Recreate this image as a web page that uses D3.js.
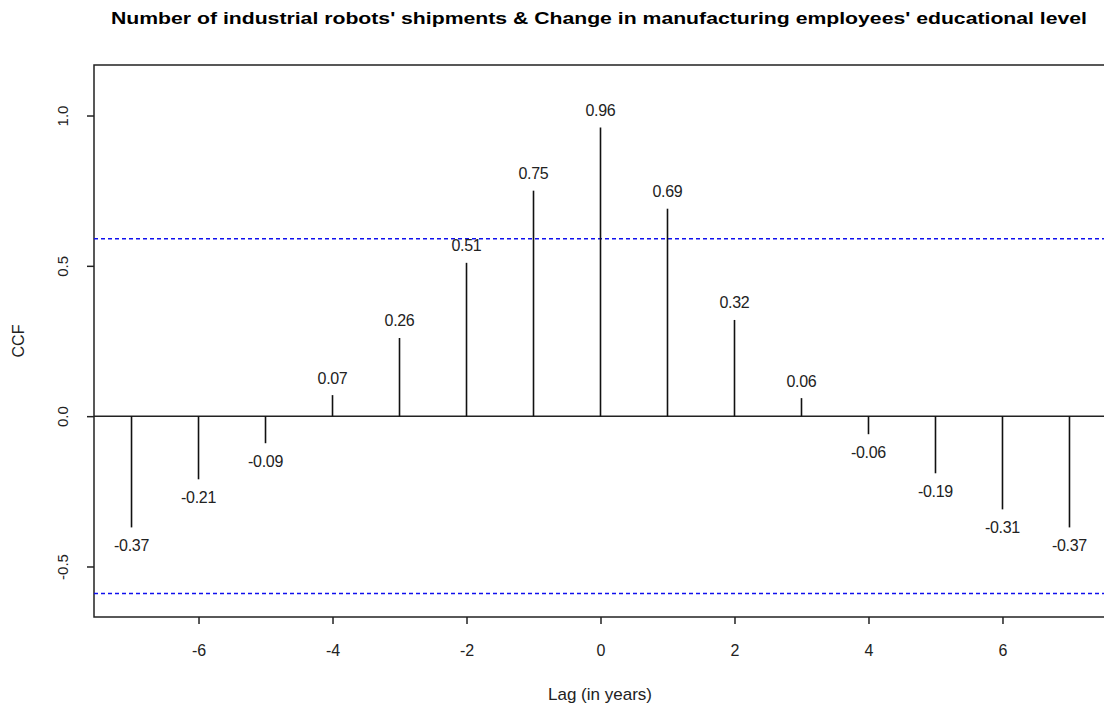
<!DOCTYPE html>
<html>
<head>
<meta charset="utf-8">
<title>CCF plot</title>
<script src="https://d3js.org/d3.v7.min.js"></script>
<style>
  body { margin: 0; background: #fff; }
  text { font-family: "Liberation Sans", Arial, sans-serif; }
</style>
</head>
<body>
<svg id="chart"></svg>
<script>
// lags and cross-correlation values
const lags = [-7, -6, -5, -4, -3, -2, -1, 0, 1, 2, 3, 4, 5, 6, 7];
const ccfValues = [-0.37, -0.21, -0.09, 0.07, 0.26, 0.51, 0.75, 0.96, 0.69, 0.32, 0.06, -0.06, -0.19, -0.31, -0.37];
const confLimit = 0.59;
const xTicks = [-6, -4, -2, 0, 2, 4, 6];
const yTicks = [-0.5, 0.0, 0.5, 1.0];

const width = 1104, height = 705;
const box = {left: 94, top: 65, right: 1107, bottom: 617};
const ink = '#222';

const svg = d3.select('#chart').attr('width', width).attr('height', height);

const x = d3.scaleLinear().domain([-7.56, 7.56]).range([box.left, box.right]);
const y = d3.scaleLinear().domain([-0.668, 1.168]).range([box.bottom, box.top]);

// title
svg.append('text')
  .attr('x', 599).attr('y', 24)
  .attr('text-anchor', 'middle')
  .attr('font-weight', 'bold').attr('font-size', 16)
  .attr('textLength', 976).attr('lengthAdjust', 'spacingAndGlyphs')
  .text("Number of industrial robots' shipments & Change in manufacturing employees' educational level");

// plot box
svg.append('rect')
  .attr('x', box.left).attr('y', box.top)
  .attr('width', box.right - box.left).attr('height', box.bottom - box.top)
  .attr('fill', 'none').attr('stroke', ink).attr('stroke-width', 1.5);

// x axis
const xAxis = svg.append('g').attr('transform', `translate(0,${box.bottom})`)
  .call(d3.axisBottom(x).tickValues(xTicks).tickSize(7).tickPadding(21).tickFormat(d3.format('d')));
xAxis.select('.domain').remove();
xAxis.selectAll('line').attr('stroke', ink).attr('stroke-width', 1.5);
xAxis.selectAll('text').attr('font-size', 16).attr('fill', ink)
  .attr('font-family', '"Liberation Sans", Arial, sans-serif')
  .text(d => d < 0 ? '-' + Math.abs(d) : d);

// y axis with rotated labels
const yAxis = svg.append('g').attr('transform', `translate(${box.left},0)`)
  .call(d3.axisLeft(y).tickValues(yTicks).tickSize(7));
yAxis.select('.domain').remove();
yAxis.selectAll('line').attr('stroke', ink).attr('stroke-width', 1.5);
yAxis.selectAll('text').remove();
yAxis.selectAll('.tick').append('text')
  .attr('transform', 'translate(-31,0) rotate(-90)')
  .attr('text-anchor', 'middle').attr('dy', '0.35em')
  .attr('font-size', 15).attr('fill', ink)
  .text(d => d3.format('.1f')(d).replace('−', '-'));

// axis titles
svg.append('text')
  .attr('x', 600).attr('y', 700)
  .attr('text-anchor', 'middle').attr('font-size', 17).attr('fill', ink)
  .text('Lag (in years)');
svg.append('text')
  .attr('transform', 'translate(24,341) rotate(-90)')
  .attr('text-anchor', 'middle').attr('font-size', 16).attr('fill', ink)
  .text('CCF');

// zero line
svg.append('line')
  .attr('x1', box.left).attr('x2', box.right)
  .attr('y1', y(0)).attr('y2', y(0))
  .attr('stroke', ink).attr('stroke-width', 1.5);

// confidence limits
[confLimit, -confLimit].forEach(c => {
  svg.append('line')
    .attr('x1', box.left).attr('x2', box.right)
    .attr('y1', y(c)).attr('y2', y(c))
    .attr('stroke', '#1010ee').attr('stroke-width', 1.5)
    .attr('stroke-dasharray', '4,3');
});

// spikes
svg.append('g').selectAll('line')
  .data(lags)
  .join('line')
  .attr('x1', d => x(d)).attr('x2', d => x(d))
  .attr('y1', y(0)).attr('y2', (d, i) => y(ccfValues[i]))
  .attr('stroke', '#111').attr('stroke-width', 1.6);

// value labels
svg.append('g').selectAll('text')
  .data(lags)
  .join('text')
  .attr('x', d => x(d))
  .attr('y', (d, i) => y(ccfValues[i] + (ccfValues[i] >= 0 ? 0.057 : -0.06)))
  .attr('dy', '0.35em')
  .attr('text-anchor', 'middle').attr('font-size', 16).attr('fill', ink)
  .attr('letter-spacing', -0.3)
  .text((d, i) => d3.format('.2f')(ccfValues[i]).replace('−', '-'));
</script>
</body>
</html>
